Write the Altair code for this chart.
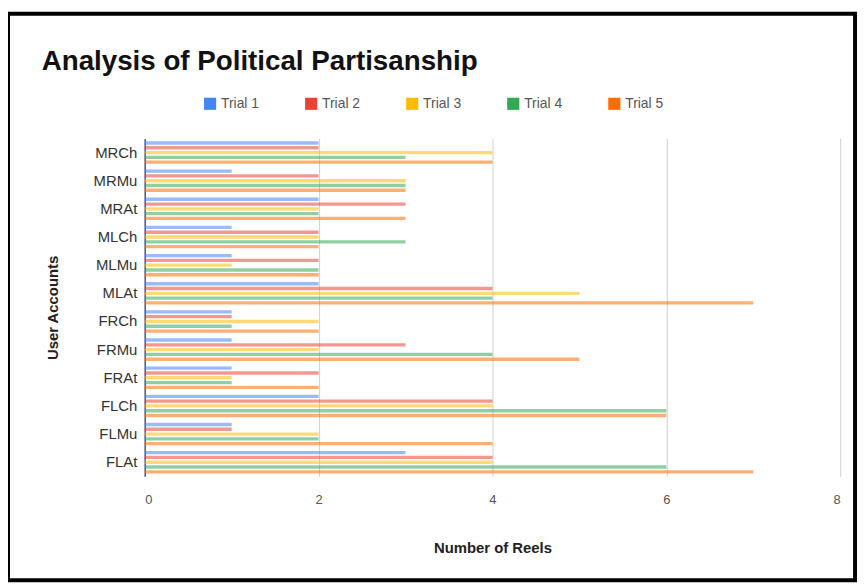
import altair as alt
import pandas as pd

accounts = ["MRCh", "MRMu", "MRAt", "MLCh", "MLMu", "MLAt",
            "FRCh", "FRMu", "FRAt", "FLCh", "FLMu", "FLAt"]
trials = ["Trial 1", "Trial 2", "Trial 3", "Trial 4", "Trial 5"]
trial1 = [2, 1, 2, 1, 1, 2, 1, 1, 1, 2, 1, 3]
trial2 = [2, 2, 3, 2, 2, 4, 1, 3, 2, 4, 1, 4]
trial3 = [4, 3, 2, 2, 1, 5, 2, 2, 1, 4, 2, 4]
trial4 = [3, 3, 2, 3, 2, 4, 1, 4, 1, 6, 2, 6]
trial5 = [4, 3, 3, 2, 2, 7, 2, 5, 2, 6, 4, 7]
colors = ["#4285F4", "#EA4335", "#FBBC04", "#34A853", "#FF6D01"]
x_ticks = [0, 2, 4, 6, 8]

rows = []
for t, vals in zip(trials, [trial1, trial2, trial3, trial4, trial5]):
    for a, v in zip(accounts, vals):
        rows.append({"Account": a, "Trial": t, "Reels": v})
df = pd.DataFrame(rows)

FONT = "Liberation Sans"

bars = alt.Chart(df).mark_bar(opacity=0.55).encode(
    y=alt.Y("Account:N", sort=accounts,
            scale=alt.Scale(paddingInner=0.2, paddingOuter=0.1),
            axis=alt.Axis(title="User Accounts", titleFontWeight="bold",
                          titleFontSize=15, titleColor="#222", titlePadding=33,
                          labelFontSize=15, labelColor="#333", labelPadding=8,
                          ticks=False, domain=True, domainColor="#4a5a8a",
                          domainWidth=1.5, grid=False, labelFont=FONT,
                          titleFont=FONT)),
    yOffset=alt.YOffset("Trial:N", sort=trials,
                        scale=alt.Scale(paddingInner=0.3)),
    x=alt.X("Reels:Q", scale=alt.Scale(domain=[0, 8], nice=False),
            axis=alt.Axis(title="Number of Reels", titleFontWeight="bold",
                          titleFontSize=15, titleColor="#222", titlePadding=35,
                          values=x_ticks, labelFontSize=13, labelColor="#555",
                          labelPadding=17, ticks=False, domain=False,
                          grid=True, gridColor="#d0d0d0", labelFont=FONT,
                          titleFont=FONT)),
    color=alt.Color("Trial:N", sort=trials,
                    scale=alt.Scale(domain=trials, range=colors),
                    legend=alt.Legend(title=None, orient="none", legendX=59,
                                      legendY=-42, direction="horizontal",
                                      symbolType="square", symbolSize=150,
                                      symbolOpacity=1, labelFontSize=14,
                                      labelColor="#555", columnPadding=45,
                                      labelFont=FONT)),
)

border = alt.Chart(pd.DataFrame({"k": [0]})).mark_rect(
    fill=None, stroke="black", strokeWidth=4, clip=False
).encode(
    x=alt.value(-138), x2=alt.value(717),
    y=alt.value(-126), y2=alt.value(446),
)

chart = alt.layer(bars, border).properties(
    width=702, height=341,
    autosize=alt.AutoSizeParams(type="none"),
    padding={"left": 138, "top": 129, "right": 20, "bottom": 106},
    title=alt.Title("Analysis of Political Partisanship", anchor="start",
                    frame="group", dx=-104, dy=69, fontSize=28, font=FONT,
                    fontWeight="bold", color="#111"),
).configure_view(stroke=None)

chart.save("out.html", embed_options={"renderer": "svg", "actions": False})
